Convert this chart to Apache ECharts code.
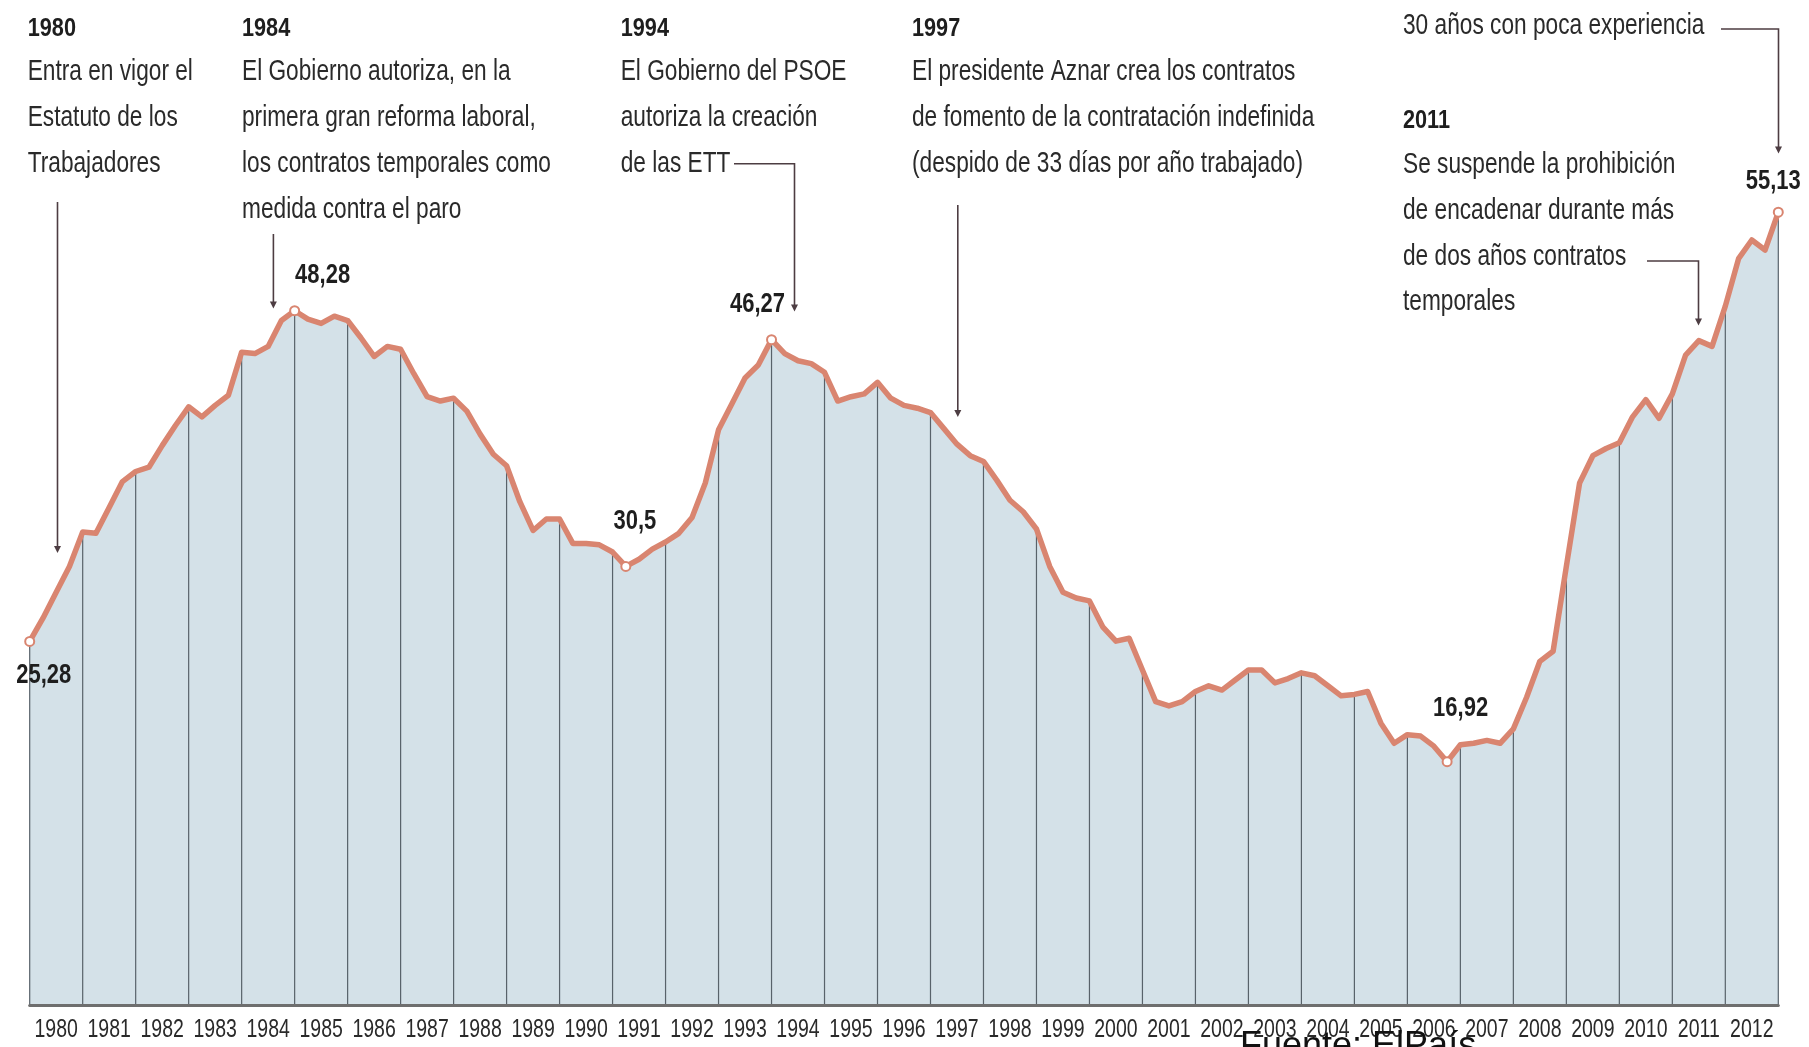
<!DOCTYPE html>
<html>
<head>
<meta charset="utf-8">
<script src="https://cdn.jsdelivr.net/npm/echarts@6/dist/echarts.min.js"></script>
<style>
html,body{margin:0;padding:0;background:#ffffff;}
#chart{width:1809px;height:1047px;}
</style>
</head>
<body>
<div id="chart"></div>
<script>
// ---------- DATA ----------
const years = [1980,1981,1982,1983,1984,1985,1986,1987,1988,1989,1990,1991,1992,1993,1994,1995,1996,
               1997,1998,1999,2000,2001,2002,2003,2004,2005,2006,2007,2008,2009,2010,2011,2012];
// quarterly values, from the start of 1980 to the end of 2012
const tasa = [
  25.28, 26.9, 28.7, 30.5,
  32.9, 32.8, 34.6, 36.4,
  37.1, 37.4, 38.9, 40.3,
  41.6, 40.9, 41.7, 42.4,
  45.4, 45.3, 45.8, 47.6,
  48.28, 47.7, 47.4, 47.9,
  47.6, 46.4, 45.1, 45.8,
  45.6, 43.9, 42.3, 42.0,
  42.2, 41.3, 39.7, 38.3,
  37.5, 35.0, 33.0, 33.8,
  33.8, 32.1, 32.1, 32.0,
  31.5, 30.5, 31.0, 31.7,
  32.2, 32.8, 33.9, 36.3,
  40.0, 41.8, 43.6, 44.5,
  46.27, 45.3, 44.8, 44.6,
  44.0, 42.0, 42.3, 42.5,
  43.3, 42.2, 41.7, 41.5,
  41.2, 40.1, 39.0, 38.2,
  37.8, 36.5, 35.1, 34.3,
  33.1, 30.5, 28.7, 28.3,
  28.1, 26.3, 25.3, 25.5,
  23.3, 21.1, 20.8, 21.1,
  21.8, 22.2, 21.9, 22.6,
  23.3, 23.3, 22.4, 22.7,
  23.1, 22.9, 22.2, 21.5,
  21.6, 21.8, 19.6, 18.2,
  18.8, 18.7, 18.0, 16.92,
  18.1, 18.2, 18.4, 18.2,
  19.2, 21.4, 23.9, 24.6,
  30.5, 36.3, 38.2, 38.7,
  39.1, 40.9, 42.1, 40.8,
  42.5, 45.2, 46.2, 45.8,
  48.6, 51.9, 53.2, 52.5,
  55.13
];
// indices of the labelled points
const highlightIdx = [0, 20, 45, 56, 107, 132];

// annotation texts
const note1980 = ['1980', 'Entra en vigor el', 'Estatuto de los', 'Trabajadores'];
const note1984 = ['1984', 'El Gobierno autoriza, en la', 'primera gran reforma laboral,', 'los contratos temporales como', 'medida contra el paro'];
const note1994 = ['1994', 'El Gobierno del PSOE', 'autoriza la creación', 'de las ETT'];
const note1997 = ['1997', 'El presidente Aznar crea los contratos', 'de fomento de la contratación indefinida', '(despido de 33 días por año trabajado)'];
const note2012 = ['30 años con poca experiencia'];
const note2011 = ['2011', 'Se suspende la prohibición', 'de encadenar durante más', 'de dos años contratos', 'temporales'];
const sourceText = 'Fuente: ElPaís';

// ---------- STYLE / LAYOUT ----------
const FONT = '"Liberation Sans", Arial, sans-serif';
const LINE_COLOR = '#d98570';
const AREA_COLOR = '#d4e1e8';
const GRID_COLOR = '#58626a';
const LEADER_COLOR = '#4d3d42';
const labelOffsets = [[14, 34], [28, -35], [9, -45], [-14, -35], [13.5, -53.5], [-5, -31]];

const firstYear = years[0];
const lastYear = years[years.length - 1] + 1;
const points = tasa.map((v, i) => [firstYear + i / 4, v]);
const boundaries = [];
for (let k = 0; k <= years.length; k++) boundaries.push([firstYear + k, tasa[k * 4]]);
const highlights = highlightIdx.map(i => points[i]);
const yearLabelData = years.map(y => [y, 0]);

// ---------- annotation graphics ----------
const BODY_FONT = '22.7px ' + FONT;
const TITLE_FONT = 'bold 21.7px ' + FONT;
function textEl(str, x, y, bold) {
  return {
    type: 'text', x: x, y: y, scaleY: bold ? 1.2 : 1.33, silent: true,
    style: {
      text: str, font: bold ? TITLE_FONT : BODY_FONT, fill: bold ? '#1e1e1e' : '#2a2a2a',
      align: 'left', verticalAlign: 'middle', textAlign: 'left', textVerticalAlign: 'middle'
    }
  };
}
function noteBlock(lines, x, yTitle, yFirst, step) {
  const els = [textEl(lines[0], x, yTitle, true)];
  for (let i = 1; i < lines.length; i++) els.push(textEl(lines[i], x, yFirst + (i - 1) * step, false));
  return els;
}
function leader(pts) {
  const tip = pts[pts.length - 1];
  const body = pts.slice(0, -1).concat([[tip[0], tip[1] - 6]]);
  return [
    { type: 'polyline', silent: true, shape: { points: body }, style: { stroke: LEADER_COLOR, lineWidth: 1.6, fill: null } },
    { type: 'polygon', silent: true, shape: { points: [[tip[0] - 3.5, tip[1] - 7], [tip[0] + 3.5, tip[1] - 7], [tip[0], tip[1]]] }, style: { fill: LEADER_COLOR } }
  ];
}

let graphics = [];
graphics = graphics.concat(noteBlock(note1980, 27.7, 29, 71.6, 46));
graphics = graphics.concat(noteBlock(note1984, 242, 29, 71.6, 46));
graphics = graphics.concat(noteBlock(note1994, 620.7, 29, 71.6, 46));
graphics = graphics.concat(noteBlock(note1997, 912, 29, 71.6, 46));
graphics.push(textEl(note2012[0], 1403, 26, false));
graphics = graphics.concat(noteBlock(note2011, 1403, 121, 165, 45.7));
graphics = graphics.concat(leader([[57.5, 202], [57.5, 553]]));
graphics = graphics.concat(leader([[273.4, 234], [273.4, 308.5]]));
graphics = graphics.concat(leader([[734, 163.8], [794.5, 163.8], [794.5, 311.5]]));
graphics = graphics.concat(leader([[957.8, 205], [957.8, 417]]));
graphics = graphics.concat(leader([[1721, 29], [1778.5, 29], [1778.5, 153.5]]));
graphics = graphics.concat(leader([[1647, 261], [1698.5, 261], [1698.5, 325.5]]));
graphics.push({
  type: 'text', x: 1240, y: 1029, silent: true, z: 100,
  style: { text: sourceText, font: '36px ' + FONT, fill: '#111111', align: 'left', verticalAlign: 'top', textAlign: 'left', textVerticalAlign: 'top' }
});

// ---------- CHART ----------
const chart = echarts.init(document.getElementById('chart'), null, { renderer: 'canvas' });
chart.setOption({
  backgroundColor: '#ffffff',
  animation: false,
  grid: { left: 29.7, right: 30.7, top: 142.2, bottom: 42, containLabel: false },
  xAxis: {
    type: 'value', min: firstYear, max: lastYear, z: 10,
    axisLine: { show: true, onZero: false, lineStyle: { color: '#6e6e6e', width: 3 } },
    axisTick: { show: false }, axisLabel: { show: false }, splitLine: { show: false }
  },
  yAxis: { type: 'value', min: 0, max: 60, show: false, splitLine: { show: false } },
  graphic: { elements: graphics },
  series: [
    {
      name: 'area', type: 'line', data: points, symbol: 'none', z: 1, silent: true,
      lineStyle: { width: 0, opacity: 0 },
      areaStyle: { color: AREA_COLOR, opacity: 1, origin: 'start' }
    },
    {
      name: 'yearLines', type: 'custom', data: boundaries, z: 2, silent: true,
      encode: { x: 0, y: 1 },
      renderItem: function (params, api) {
        const x = api.value(0), v = api.value(1);
        const p0 = api.coord([x, 0]);
        const p1 = api.coord([x, v]);
        return { type: 'line', shape: { x1: p0[0], y1: p0[1], x2: p1[0], y2: p1[1] }, style: { stroke: GRID_COLOR, lineWidth: 1.2 } };
      }
    },
    {
      name: 'tasa', type: 'line', data: points, symbol: 'none', z: 3, silent: true,
      lineStyle: { color: LINE_COLOR, width: 5.5, join: 'round', cap: 'round' }
    },
    {
      name: 'highlights', type: 'custom', data: highlights, z: 5, silent: true,
      encode: { x: 0, y: 1 },
      renderItem: function (params, api) {
        const v = api.value(1);
        const p = api.coord([api.value(0), v]);
        const off = labelOffsets[params.dataIndex];
        const txt = String(v).replace('.', ',');
        return {
          type: 'group', children: [
            { type: 'circle', shape: { cx: p[0], cy: p[1], r: 4.5 }, style: { fill: '#ffffff', stroke: LINE_COLOR, lineWidth: 2 } },
            {
              type: 'text', x: p[0] + off[0], y: p[1] + off[1], scaleY: 1.25,
              style: { text: txt, font: 'bold 22px ' + FONT, fill: '#1e1e1e', align: 'center', verticalAlign: 'middle', textAlign: 'center', textVerticalAlign: 'middle' }
            }
          ]
        };
      }
    },
    {
      name: 'yearLabels', type: 'custom', data: yearLabelData, z: 6, silent: true,
      encode: { x: 0, y: 1 },
      renderItem: function (params, api) {
        const y = api.value(0);
        const p = api.coord([y + 0.5, 0]);
        return {
          type: 'text', x: p[0], y: p[1] + 25, scaleY: 1.35,
          style: { text: String(y), font: '19.5px ' + FONT, fill: '#2a2a2a', align: 'center', verticalAlign: 'middle', textAlign: 'center', textVerticalAlign: 'middle' }
        };
      }
    }
  ]
});
</script>
</body>
</html>
